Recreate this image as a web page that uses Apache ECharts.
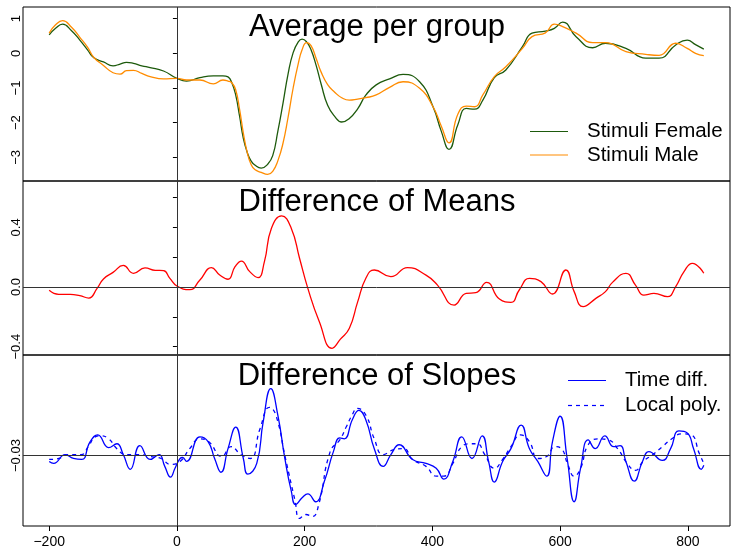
<!DOCTYPE html>
<html>
<head>
<meta charset="utf-8">
<script src="https://cdn.jsdelivr.net/npm/echarts@6/dist/echarts.min.js"></script>
<style>
  html, body { margin: 0; padding: 0; background: #ffffff; }
  #chart { width: 732px; height: 549px; }
</style>
</head>
<body>
<div id="chart"></div>
<script>
// ---- Panel 1: average signal per stimulus group ----
const tAvg = [-200,-190,-179,-165,-152,-140,-130,-115,-100,-89,-79,-68,-55,-42,-21,0,15,36,57,72,80,86,92,98,104,110,116,122,132,142,150,158,166,174,182,190,196,203,210,218,226,236,247,258,270,283,296,312,333,354,380,401,414,426,440,453,466,479,497,515,541,556,577,591,604,625,651,671,703,734,755,781,799,812,825];
const stimuliFemale = [0.53,0.72,0.84,0.65,0.38,0.10,-0.13,-0.25,-0.36,-0.31,-0.26,-0.29,-0.36,-0.41,-0.51,-0.72,-0.80,-0.70,-0.65,-0.65,-0.68,-0.85,-1.20,-1.80,-2.45,-2.85,-3.10,-3.22,-3.31,-3.20,-2.95,-2.25,-1.45,-0.60,0.02,0.33,0.41,0.33,0.10,-0.35,-0.90,-1.50,-1.82,-1.98,-1.88,-1.60,-1.20,-0.91,-0.74,-0.61,-0.82,-1.54,-2.25,-2.77,-2.05,-1.59,-1.61,-1.35,-0.70,-0.48,0.19,0.58,0.64,0.72,0.90,0.48,0.16,0.29,0.14,-0.14,-0.14,0.24,0.38,0.25,0.12];
const stimuliMale = [0.58,0.82,0.94,0.75,0.46,0.18,-0.12,-0.35,-0.56,-0.60,-0.50,-0.49,-0.58,-0.67,-0.74,-0.72,-0.77,-0.77,-0.88,-0.77,-0.80,-0.85,-1.05,-1.60,-2.30,-2.85,-3.20,-3.35,-3.43,-3.49,-3.40,-3.10,-2.60,-1.85,-1.00,-0.30,0.10,0.31,0.22,-0.15,-0.55,-0.90,-1.12,-1.28,-1.35,-1.32,-1.28,-1.20,-0.98,-0.82,-1.01,-1.54,-2.10,-2.58,-1.75,-1.52,-1.54,-1.20,-0.67,-0.39,0.14,0.48,0.59,0.84,0.77,0.58,0.31,0.31,0.05,-0.03,-0.06,0.29,0.14,0.00,-0.07];

// ---- Panel 2: difference of means ----
const tMeans = [-200,-185,-167,-152,-138,-125,-115,-100,-84,-68,-50,-34,-21,-11,0,20,36,54,67,80,91,101,114,127,137,148,164,179,192,205,223,243,256,270,283,296,309,335,361,390,408,434,453,468,485,505,523,536,552,570,588,609,622,636,656,671,682,703,718,731,747,768,781,794,807,825];
const diffMeans = [-0.022,-0.049,-0.049,-0.058,-0.074,-0.009,0.054,0.098,0.145,0.092,0.128,0.112,0.110,0.058,0.007,-0.018,0.047,0.130,0.080,0.052,0.136,0.174,0.103,0.063,0.170,0.394,0.477,0.394,0.193,-0.009,-0.233,-0.411,-0.350,-0.277,-0.100,0.060,0.114,0.069,0.130,0.080,0.013,-0.121,-0.043,-0.038,0.031,-0.081,-0.103,-0.020,0.058,0.036,-0.047,0.114,-0.031,-0.132,-0.076,-0.031,0.031,0.092,0.013,-0.054,-0.043,-0.065,0.002,0.103,0.159,0.092];

// ---- Panel 3: difference of slopes ----
const tTimeDiff = [-200,-193,-175,-162,-149,-136,-124,-107,-94,-84,-73,-58,-42,-28,-19,-10,-3,5,9,15,36,49,59,69,80,92,104,111,125,135,147,158,169,179,186,196,205,217,231,245,255,262,275,285,296,309,323,335,348,369,390,406,418,432,446,462,478,488,497,510,523,539,552,565,579,588,600,611,622,632,644,655,670,684,694,703,716,729,739,760,773,786,799,809,821,825];
const timeDiff = [-0.0303,-0.0304,-0.02995,-0.03015,-0.0302,-0.0293,-0.02895,-0.0296,-0.0294,-0.02995,-0.0307,-0.0295,-0.0302,-0.02995,-0.03055,-0.0311,-0.03065,-0.03015,-0.0301,-0.0303,-0.02905,-0.0293,-0.03015,-0.03085,-0.02965,-0.02855,-0.03015,-0.03095,-0.0304,-0.0283,-0.0266,-0.02795,-0.03015,-0.0318,-0.0325,-0.03215,-0.03195,-0.03235,-0.0313,-0.0298,-0.0291,-0.02915,-0.02815,-0.0277,-0.0282,-0.02965,-0.03055,-0.02995,-0.02945,-0.0302,-0.0304,-0.03065,-0.0312,-0.0303,-0.02905,-0.03015,-0.029,-0.0303,-0.03135,-0.0303,-0.02965,-0.02845,-0.02965,-0.0303,-0.03105,-0.0293,-0.028,-0.03015,-0.03235,-0.03065,-0.0292,-0.02965,-0.029,-0.02955,-0.0295,-0.0303,-0.0313,-0.0303,-0.0298,-0.03025,-0.02965,-0.02875,-0.02885,-0.02965,-0.0307,-0.0305];
const tLocalPoly = [-200,-185,-170,-150,-138,-128,-120,-107,-94,-80,-60,-42,-25,-10,5,20,36,50,70,85,100,115,130,145,155,170,185,192,202,212,222,240,255,265,275,282,296,309,323,340,355,369,390,406,418,432,446,460,470,482,497,510,523,538,552,565,579,592,602,612,622,632,644,660,675,690,705,718,730,745,760,775,790,805,818,825];
const localPoly = [-0.0302,-0.03015,-0.02995,-0.02995,-0.0295,-0.02905,-0.029,-0.02915,-0.02965,-0.02995,-0.02995,-0.03005,-0.03015,-0.03045,-0.0303,-0.02965,-0.02915,-0.0293,-0.03005,-0.02955,-0.02995,-0.03015,-0.02865,-0.02755,-0.02795,-0.03015,-0.0323,-0.0332,-0.033,-0.0331,-0.0325,-0.0298,-0.0292,-0.02855,-0.0279,-0.0276,-0.02795,-0.02915,-0.02995,-0.0297,-0.02965,-0.0302,-0.03055,-0.03105,-0.03105,-0.0304,-0.02955,-0.0294,-0.0294,-0.02995,-0.03065,-0.0302,-0.02955,-0.02895,-0.0293,-0.03015,-0.03005,-0.02955,-0.02965,-0.03045,-0.03105,-0.03065,-0.02945,-0.02915,-0.0292,-0.02965,-0.0304,-0.03075,-0.0303,-0.02995,-0.02955,-0.02915,-0.0289,-0.02895,-0.0299,-0.0304];

// Axis tick positions
const xTicks = [-200, 0, 200, 400, 600, 800];
const avgTicks = [-3, -2, -1, 0, 1];
const meansTicks = [-0.4, -0.2, 0, 0.2, 0.4, 0.6];
const meansLabels = [-0.4, 0, 0.4];
const slopeTicks = [-0.03];
// Reference levels drawn as horizontal lines (null = none)
const baselines = [null, 0, -0.03];

const FONT = '"Liberation Sans", Arial, Helvetica, sans-serif';
const GREEN = '#1d5a0c';
const ORANGE = '#ff8c00';
const RED = '#ff0000';
const BLUE = '#0000ff';
const DASH = [4, 4];

const pairs = (ts, vs) => ts.map((t, i) => [t, vs[i]]);
const minus = s => String(s).replace('-', '\u2212');

const panels = [
  { top: 7, min: -3.680, max: 1.334 },
  { top: 181, min: -0.456, max: 0.711 },
  { top: 355, min: -0.033585, max: -0.024885 }
];
const PANEL_H = 174;

const grids = panels.map(p => ({
  left: 23, top: p.top, width: 707, height: PANEL_H,
  show: true, borderColor: '#000', borderWidth: 1, backgroundColor: 'transparent'
}));

const xAxes = panels.map((p, i) => ({
  type: 'value', gridIndex: i, min: -241, max: 866,
  axisLine: { show: false },
  splitLine: { show: false },
  axisTick: { show: i === 2, customValues: xTicks, length: 5, lineStyle: { color: '#000' } },
  axisLabel: {
    show: i === 2, customValues: xTicks, margin: 9,
    fontFamily: FONT, fontSize: 14, color: '#000',
    formatter: v => minus(v)
  }
}));

const yLabelBase = { rotate: 90, margin: 0, fontFamily: FONT, fontSize: 13, color: '#000' };
const yAxes = [
  {
    type: 'value', gridIndex: 0, min: panels[0].min, max: panels[0].max,
    axisLine: { show: false }, splitLine: { show: false },
    axisTick: { show: true, customValues: avgTicks, length: 4, lineStyle: { color: '#000' } },
    axisLabel: Object.assign({ customValues: avgTicks, formatter: v => minus(v) }, yLabelBase)
  },
  {
    type: 'value', gridIndex: 1, min: panels[1].min, max: panels[1].max,
    axisLine: { show: false }, splitLine: { show: false },
    axisTick: { show: true, customValues: meansTicks, length: 4, lineStyle: { color: '#000' } },
    axisLabel: Object.assign({ customValues: meansLabels, formatter: v => minus(v.toFixed(1)) }, yLabelBase)
  },
  {
    type: 'value', gridIndex: 2, min: panels[2].min, max: panels[2].max,
    axisLine: { show: false }, splitLine: { show: false },
    axisTick: { show: true, customValues: slopeTicks, length: 4, lineStyle: { color: '#000' } },
    axisLabel: Object.assign({ customValues: slopeTicks, formatter: v => minus(v.toFixed(2)) }, yLabelBase)
  }
];

// Reference lines live on their own empty series:
// the stimulus onset at t = 0 in every panel, plus each panel's baseline.
const refSeries = baselines.map((b, i) => ({
  name: 'ref' + i, type: 'line', xAxisIndex: i, yAxisIndex: i, data: [],
  symbol: 'none', silent: true, z: 2,
  markLine: {
    silent: true, symbol: 'none', animation: false,
    label: { show: false },
    lineStyle: { color: '#333', width: 1, type: 'solid' },
    data: [{ xAxis: 0 }].concat(b === null ? [] : [{ yAxis: b }])
  }
}));

const lineSeries = (name, idx, data, color, dash) => ({
  name, type: 'line', xAxisIndex: idx, yAxisIndex: idx, data,
  smooth: 0.5, showSymbol: false, symbol: 'none',
  lineStyle: { color, width: 1.3, type: dash || 'solid' },
  itemStyle: { color },
  z: 3
});

const series = refSeries.concat([
  lineSeries('Stimuli Female', 0, pairs(tAvg, stimuliFemale), GREEN),
  lineSeries('Stimuli Male', 0, pairs(tAvg, stimuliMale), ORANGE),
  lineSeries('Difference of Means', 1, pairs(tMeans, diffMeans), RED),
  lineSeries('Time diff.', 2, pairs(tTimeDiff, timeDiff), BLUE),
  lineSeries('Local poly.', 2, pairs(tLocalPoly, localPoly), BLUE, DASH)
]);

// Legend boxes: a line sample followed by its label, one row per series
const legendBox = (rows, left, top, rowH) => rows.flatMap((r, i) => {
  const y = top + i * rowH;
  return [
    { type: 'line', shape: { x1: left, y1: y, x2: left + 38, y2: y },
      style: { stroke: r.color, lineWidth: 1.2, lineDash: r.dash || null }, z: 10 },
    { type: 'text', x: left + 57, y,
      style: { text: r.name, fontFamily: FONT, fontSize: 20.5, fill: '#000',
               textAlign: 'left', textVerticalAlign: 'middle' }, z: 10 }
  ];
});

const titleText = (text, y) => ({
  type: 'text', x: 377, y,
  style: { text, fontFamily: FONT, fontSize: 31, fill: '#000', textAlign: 'center', textVerticalAlign: 'middle' }
});

const chart = echarts.init(document.getElementById('chart'), null, { renderer: 'canvas' });
chart.setOption({
  animation: false,
  backgroundColor: '#ffffff',
  grid: grids,
  xAxis: xAxes,
  yAxis: yAxes,
  series,
  graphic: [
    titleText('Average per group', 27),
    titleText('Difference of Means', 202),
    titleText('Difference of Slopes', 376)
  ].concat(
    legendBox([{ name: 'Stimuli Female', color: GREEN }, { name: 'Stimuli Male', color: ORANGE }], 530, 131.5, 23.5),
    legendBox([{ name: 'Time diff.', color: BLUE }, { name: 'Local poly.', color: BLUE, dash: DASH }], 568, 380.5, 25)
  )
});
</script>
</body>
</html>
